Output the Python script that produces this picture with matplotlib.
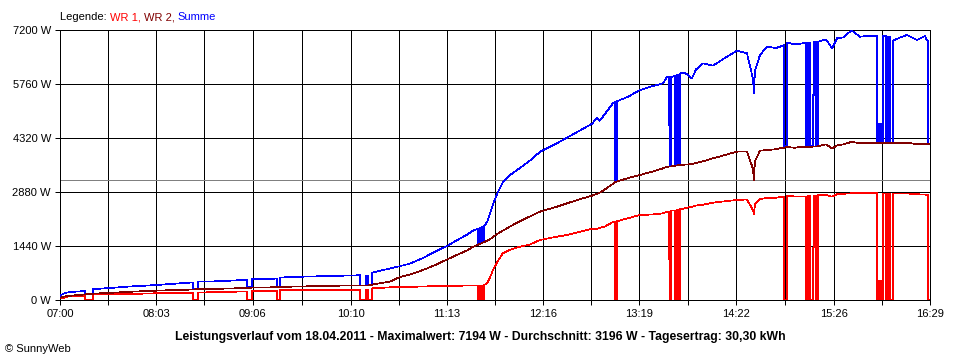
import matplotlib
matplotlib.use('Agg')
import matplotlib.pyplot as plt

plt.rcParams['font.family'] = ['Liberation Sans', 'DejaVu Sans']

# Zeit in Minuten ab 07:00, Leistung in W
# (doppelte Zeitpunkte = senkrechte Sprünge bei Ausfällen)
minutes = [0.0, 2.0, 5.9, 16.4, 16.4, 21.6, 21.6, 32.7, 45.8, 63.4,
           87.0, 87.0, 90.3, 90.3, 104.6, 122.3, 122.3, 125.6, 125.6, 141.9,
           141.9, 143.9, 143.9, 157.0, 176.6, 196.2, 196.2, 200.1, 200.1, 201.4,
           201.4, 204.0, 204.0, 215.8, 221.1, 228.9, 237.4, 245.3, 253.1, 261.6,
           266.2, 270.1, 273.4, 273.4, 274.7, 274.7, 276.0, 276.0, 277.3, 277.3,
           279.3, 281.2, 283.2, 285.8, 289.7, 294.3, 300.8, 307.4, 313.9, 323.7,
           331.6, 340.1, 347.9, 351.2, 353.0, 356.4, 361.7, 363.0, 363.0, 364.3,
           364.3, 371.5, 379.3, 387.2, 394.4, 397.0, 398.3, 398.3, 398.9, 398.9,
           399.6, 399.6, 402.2, 402.2, 403.5, 403.5, 404.8, 404.8, 405.5, 405.5,
           409.0, 413.3, 416.0, 420.5, 427.1, 436.2, 442.8, 449.3, 453.2, 453.9,
           454.5, 457.8, 462.4, 468.3, 472.8, 473.5, 473.5, 475.5, 475.5, 480.7,
           485.9, 487.9, 487.9, 489.2, 489.2, 490.5, 490.5, 492.5, 492.5, 493.2,
           493.2, 494.5, 494.5, 495.8, 495.8, 501.0, 504.9, 508.2, 512.1, 516.7,
           517.5, 523.2, 529.7, 534.3, 534.3, 535.6, 535.6, 537.0, 537.0, 538.3,
           538.3, 540.3, 540.3, 541.6, 541.6, 542.9, 542.9, 544.8, 544.8, 549.4,
           554.0, 560.5, 565.7, 567.0, 567.7, 567.7, 569.0]

wr1 = [40, 50, 100, 100, 0, 0, 150, 150, 160, 180,
       190, 0, 0, 200, 210, 230, 0, 0, 240, 240,
       0, 0, 260, 260, 265, 267, 0, 0, 267, 267,
       0, 0, 310, 338, 345, 350, 360, 370, 373, 380,
       385, 390, 390, 0, 0, 390, 390, 0, 0, 395,
       450, 600, 800, 1000, 1250, 1340, 1420, 1480, 1600, 1680,
       1733, 1820, 1900, 1900, 1920, 1960, 2080, 2090, 0, 0,
       2100, 2180, 2267, 2280, 2311, 2350, 2350, 1100, 1100, 0,
       0, 2380, 2390, 0, 0, 2400, 2410, 0, 0, 2418,
       2450, 2489, 2520, 2540, 2596, 2640, 2667, 2680, 2400, 2284,
       2550, 2690, 2720, 2729, 2756, 2760, 0, 0, 2780, 2760,
       2756, 2760, 0, 0, 2780, 2780, 0, 0, 1400, 1400,
       2790, 2790, 0, 0, 2800, 2800, 2756, 2818, 2830, 2844,
       2850, 2844, 2850, 2850, 0, 0, 500, 500, 0, 0,
       2844, 2844, 0, 0, 2840, 2840, 0, 0, 2836, 2836,
       2840, 2820, 2810, 2800, 2800, 0, 0]

wr2 = [60, 90, 110, 150, 150, 160, 170, 190, 220, 250,
       280, 280, 290, 290, 300, 320, 320, 330, 330, 340,
       340, 350, 350, 360, 380, 390, 390, 390, 390, 390,
       390, 400, 410, 490, 596, 680, 800, 930, 1080, 1240,
       1320, 1420, 1470, 1480, 1500, 1500, 1520, 1520, 1540, 1540,
       1580, 1620, 1680, 1760, 1850, 1960, 2100, 2230, 2356, 2470,
       2578, 2690, 2780, 2830, 2860, 2950, 3100, 3150, 3150, 3160,
       3160, 3250, 3333, 3420, 3511, 3550, 3560, 3560, 3560, 3560,
       3560, 3560, 3580, 3580, 3590, 3590, 3600, 3600, 3600, 3600,
       3610, 3627, 3650, 3700, 3778, 3880, 3956, 3960, 3500, 3200,
       3700, 3980, 4000, 4020, 4062, 4062, 4062, 4080, 4080, 4060,
       4089, 4089, 4089, 4080, 4080, 4080, 4080, 4090, 4090, 4090,
       4090, 4090, 4090, 4100, 4100, 4150, 4044, 4120, 4150, 4204,
       4220, 4178, 4180, 4178, 4178, 4178, 4178, 4178, 4178, 4180,
       4180, 4180, 4180, 4180, 4180, 4180, 4180, 4178, 4178, 4178,
       4190, 4160, 4160, 4151, 4151, 4151, 4151]

summe = [100, 170, 210, 240, 160, 170, 290, 320, 360, 400,
         470, 290, 300, 490, 500, 540, 340, 340, 560, 570,
         350, 360, 600, 620, 640, 660, 390, 390, 650, 650,
         390, 400, 730, 840, 890, 970, 1120, 1290, 1440, 1640,
         1740, 1850, 1900, 1500, 1520, 1920, 1940, 1540, 1560, 1960,
         2080, 2300, 2560, 2820, 3150, 3330, 3520, 3720, 3950, 4150,
         4330, 4520, 4700, 4850, 4780, 4960, 5250, 5280, 3200, 3200,
         5300, 5420, 5600, 5700, 5778, 5956, 5956, 4667, 4667, 3560,
         3560, 5950, 5970, 3580, 3590, 6000, 6010, 3600, 3600, 6044,
         6050, 5911, 6150, 6311, 6250, 6489, 6649, 6578, 5900, 5511,
         6100, 6533, 6756, 6720, 6782, 6800, 4100, 4100, 6862, 6820,
         6844, 6850, 4110, 4100, 6860, 6860, 4100, 4100, 5460, 5460,
         6880, 6880, 4100, 4100, 6889, 6950, 6711, 6978, 7000, 7155,
         7194, 7022, 7050, 7040, 4178, 4178, 4700, 4700, 4178, 4180,
         7040, 7040, 4180, 4180, 7020, 7020, 4180, 4178, 6916, 7000,
         7067, 6933, 7040, 6916, 6916, 4151, 4151]

tick_labels = ['07:00', '08:03', '09:06', '10:10', '11:13',
               '12:16', '13:19', '14:22', '15:26', '16:29']
y_ticks = [0, 1440, 2880, 4320, 5760, 7200]
durchschnitt = 3196
titel = ('Leistungsverlauf vom 18.04.2011 - Maximalwert: 7194 W - '
         'Durchschnitt: 3196 W - Tagesertrag: 30,30 kWh')
legende = [('Legende: ', 'black'), ('WR 1, ', '#ff0000'),
           ('WR 2, ', '#800000'), ('Summe', '#0000ff')]


def to_min(s):
    h, m = s.split(':')
    return (int(h) - 7) * 60 + int(m)


tick_pos = [to_min(s) for s in tick_labels]
mid_pos = [(a + b) / 2 for a, b in zip(tick_pos[:-1], tick_pos[1:])]

px = 0.72  # 1 Pixel bei 100 dpi

fig = plt.figure(figsize=(9.6, 3.6), dpi=100)
ax = fig.add_axes([60 / 960, 60 / 360, 870 / 960, 270 / 360])

ax.set_xlim(0, tick_pos[-1])
ax.set_ylim(0, 7200)

ax.set_xticks(tick_pos)
ax.set_xticklabels(tick_labels)
ax.set_xticks(mid_pos, minor=True)
ax.set_yticks(y_ticks)
ax.set_yticklabels([f'{v} W' for v in y_ticks])

ax.grid(True, which='both', color='black', linewidth=px, antialiased=False)
ax.tick_params(which='both', direction='out', length=3.5, width=px,
               labelsize=8, colors='black', pad=3)
for s in ax.spines.values():
    s.set_linewidth(px)
    s.set_antialiased(False)

ax.axhline(durchschnitt, color='#808080', linewidth=px, zorder=2,
           antialiased=False)

ax.plot(minutes, summe, color='#0000ff', lw=0.5, zorder=3, antialiased=False)
ax.plot(minutes, wr1, color='#ff0000', lw=0.5, zorder=3, antialiased=False)
ax.plot(minutes, wr2, color='#800000', lw=0.5, zorder=3, antialiased=False)

# Legende oben links, mehrfarbig, Stück für Stück nebeneinander
renderer = fig.canvas.get_renderer()
x = 60
for txt, col in legende:
    t = fig.text(x / 960, 1 - 17 / 360, txt, color=col, fontsize=8, va='center')
    x += t.get_window_extent(renderer).width

fig.text(480 / 960, 1 - 337 / 360, titel, ha='center', va='center',
         fontsize=8.8, fontweight='bold')
fig.text(5 / 960, 1 - 349 / 360, '© SunnyWeb', fontsize=8, va='center')

fig.savefig('out.png', dpi=100, facecolor='white')
